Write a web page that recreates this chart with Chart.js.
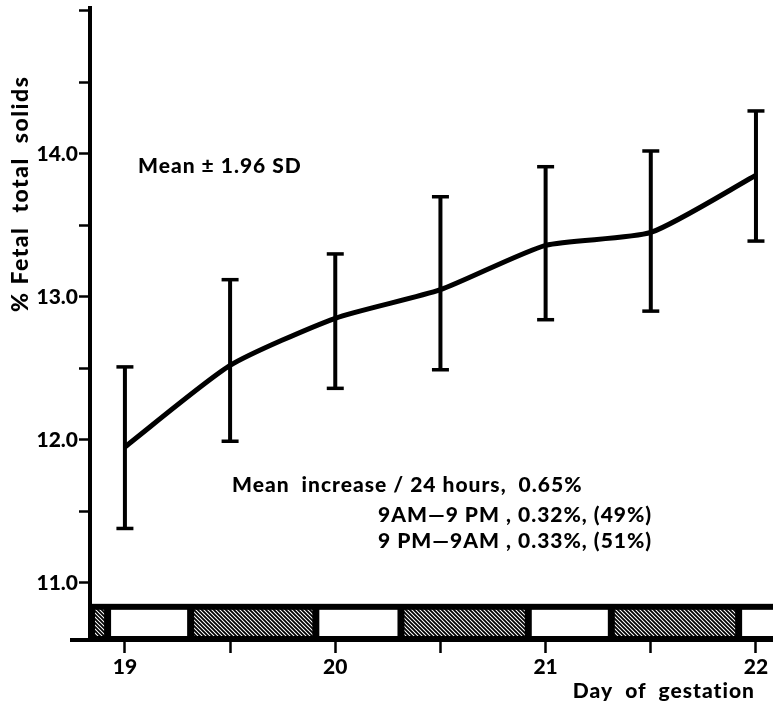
<!DOCTYPE html>
<html>
<head>
<meta charset="utf-8">
<script src="https://cdn.jsdelivr.net/npm/chart.js@4"></script>
<style>
  html, body { margin: 0; padding: 0; background: #fff; }
  #wrap { width: 773px; height: 710px; }
</style>
</head>
<body>
<div id="wrap"><canvas id="solidsChart"></canvas></div>
<script>
// values
const days = [19, 19.5, 20, 20.5, 21, 21.5, 22];
const means = [11.95, 12.52, 12.85, 13.05, 13.36, 13.45, 13.85];
const upper = [12.51, 13.12, 13.30, 13.70, 13.91, 14.02, 14.30];
const lower = [11.38, 11.99, 12.36, 12.49, 12.84, 12.90, 13.39];
const yLabels = [11, 12, 13, 14];
const xLabels = [19, 20, 21, 22];
// light / dark bar under the plot (hatched = dark)
const nightStart = [18.8, 19.31, 20.31, 21.31];
const nightEnd = [18.92, 19.91, 20.92, 21.92];

const FONT = 'Lato, "DejaVu Sans", sans-serif';

// error bars: one segment per day, broken by nulls
const errorPoints = [];
days.forEach((d, i) => {
  errorPoints.push({ x: d, y: lower[i] }, { x: d, y: upper[i] }, { x: d, y: null });
});

// hatch pattern for the dark periods
const hatchCanvas = document.createElement('canvas');
hatchCanvas.width = 4;
hatchCanvas.height = 4;
const hc = hatchCanvas.getContext('2d');
hc.fillStyle = '#fff';
hc.fillRect(0, 0, 4, 4);
hc.strokeStyle = '#000';
hc.lineWidth = 1.8;
hc.beginPath();
hc.moveTo(-1, -1); hc.lineTo(5, 5);
hc.moveTo(-1, 3); hc.lineTo(1, 5);
hc.moveTo(3, -1); hc.lineTo(5, 1);
hc.stroke();
const hatch = hc.createPattern(hatchCanvas, 'repeat');

const lightBar = {
  id: 'lightBar',
  beforeDatasetsDraw(chart) {
    const { ctx, chartArea: a, scales: { x, y } } = chart;
    const top = y.getPixelForValue(10.853);
    const bottom = a.bottom;
    ctx.save();
    // base line runs a little past the y axis, as in the original
    ctx.fillStyle = '#000';
    ctx.fillRect(a.left - 20, bottom - 2, 20, 4);
    ctx.beginPath();
    ctx.rect(a.left, a.top, a.right - a.left, a.bottom - a.top);
    ctx.clip();
    ctx.fillRect(a.left, top, a.right - a.left, bottom - top);
    nightStart.forEach((s, i) => {
      const x0 = Math.max(x.getPixelForValue(s), a.left + 1);
      const x1 = x.getPixelForValue(nightEnd[i]);
      ctx.fillStyle = hatch;
      ctx.fillRect(x0 + 4, top + 6, x1 - x0 - 8, bottom - top - 10);
      const next = i + 1 < nightStart.length ? x.getPixelForValue(nightStart[i + 1]) : a.right + 10;
      ctx.fillStyle = '#fff';
      ctx.fillRect(x1 + 3, top + 6, next - x1 - 6, bottom - top - 10);
    });
    ctx.restore();
  }
};

const notes = [
  { text: 'Mean \u00b1 1.96 SD', x: 138, y: 173 },
  { text: 'Mean  increase / 24 hours,  0.65%', x: 232, y: 492 },
  { text: '9AM\u20149 PM , 0.32%, (49%)', x: 378, y: 522 },
  { text: '9 PM\u20149AM , 0.33%, (51%)', x: 378, y: 548 }
];

const textLayer = {
  id: 'textLayer',
  afterDraw(chart) {
    const ctx = chart.ctx;
    ctx.save();
    ctx.fillStyle = '#000';
    ctx.font = '900 21px ' + FONT;
    ctx.letterSpacing = '1px';
    ctx.textBaseline = 'alphabetic';
    ctx.textAlign = 'left';
    notes.forEach(n => ctx.fillText(n.text, n.x, n.y));
    // axis titles
    ctx.textAlign = 'right';
    ctx.fillText('Day  of  gestation', 755, 698);
    ctx.font = '900 23px ' + FONT;
    ctx.letterSpacing = '1.5px';
    ctx.translate(28, 312);
    ctx.rotate(-Math.PI / 2);
    ctx.textAlign = 'left';
    ctx.fillText('% Fetal  total  solids', 0, 0);
    ctx.restore();
  }
};

new Chart(document.getElementById('solidsChart'), {
  type: 'line',
  data: {
    datasets: [
      {
        label: 'Mean',
        data: days.map((d, i) => ({ x: d, y: means[i] })),
        borderColor: '#000',
        borderWidth: 5,
        pointRadius: 0,
        tension: 0.2,
        fill: false
      },
      {
        label: '\u00b1 1.96 SD',
        data: errorPoints,
        borderColor: '#000',
        borderWidth: 4,
        spanGaps: false,
        tension: 0,
        pointStyle: 'line',
        pointRadius: 8.5,
        pointBorderWidth: 3.5,
        pointBorderColor: '#000',
        fill: false
      }
    ]
  },
  options: {
    responsive: true,
    maintainAspectRatio: false,
    animation: false,
    layout: { autoPadding: false, padding: { top: 8, right: 0, left: 0, bottom: 0 } },
    plugins: { legend: { display: false }, tooltip: { enabled: false } },
    scales: {
      x: {
        type: 'linear',
        min: 18.834,
        max: 22.081,
        afterFit(s) { s.height = 70; s.paddingLeft = 0; s.paddingRight = 0; },
        border: { color: '#000', width: 4 },
        grid: { drawOnChartArea: false, color: '#000', tickLength: 13, tickWidth: 2.5 },
        ticks: {
          stepSize: 0.5,
          includeBounds: false,
          maxRotation: 0,
          padding: 2,
          color: '#000',
          font: { family: FONT, size: 21, weight: '900' },
          callback: v => (xLabels.includes(v) ? String(v) : '')
        }
      },
      y: {
        min: 10.6,
        max: 15.02,
        afterFit(s) { s.width = 90; s.paddingTop = 0; s.paddingBottom = 0; },
        border: { color: '#000', width: 4 },
        grid: { drawOnChartArea: false, color: '#000', tickLength: 11, tickWidth: 2.5 },
        ticks: {
          stepSize: 0.5,
          includeBounds: false,
          padding: 1,
          color: '#000',
          font: { family: FONT, size: 21, weight: '900' },
          callback: v => (yLabels.includes(v) ? v.toFixed(1) : '')
        }
      }
    }
  },
  plugins: [lightBar, textLayer]
});
</script>
</body>
</html>
